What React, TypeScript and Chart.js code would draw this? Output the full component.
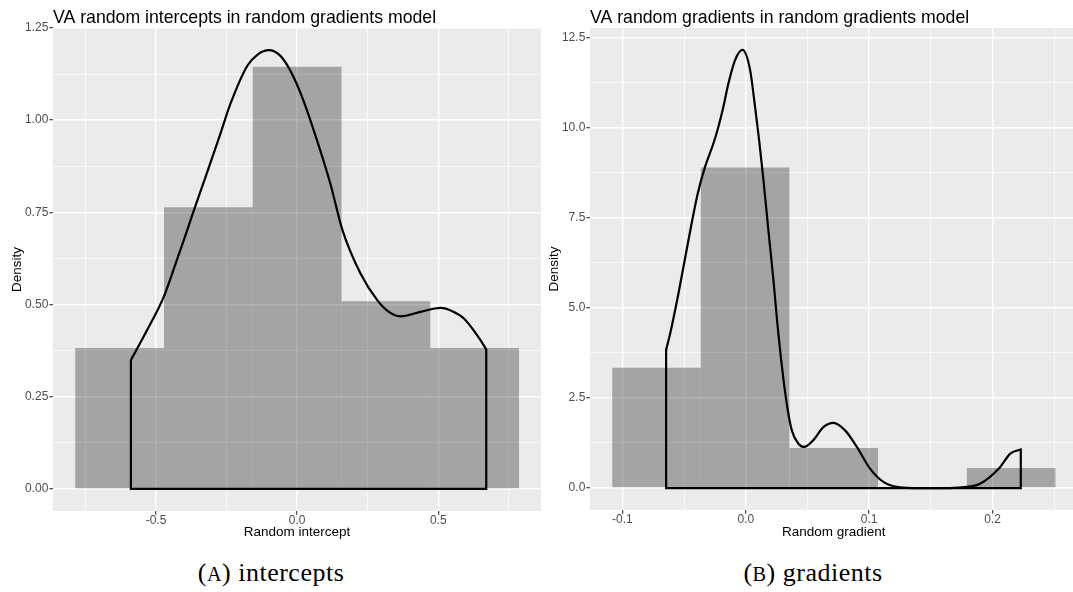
import React, { useEffect, useRef } from "react";
import { Chart, registerables } from "chart.js";

Chart.register(...registerables);
Chart.defaults.font.family = "'Liberation Sans', Arial, Helvetica, sans-serif";

// ---------- Panel A: random intercepts ----------
const interceptTitle = "VA random intercepts in random gradients model";
const interceptXTitle = "Random intercept";
const interceptBinCenters = [-0.629, -0.3145, 0.0, 0.3145, 0.629];
const interceptBinDensity = [0.382, 0.764, 1.145, 0.509, 0.382];
const interceptCurveX = [-0.589, -0.532, -0.473, -0.43, -0.4, -0.372, -0.325, -0.272, -0.2365, -0.177, -0.14, -0.1, -0.06, -0.024, 0.018, 0.071, 0.118, 0.16, 0.2245, 0.2837, 0.325, 0.366, 0.437, 0.508, 0.55, 0.591, 0.65, 0.67];
const interceptCurveY = [0.349, 0.43, 0.52, 0.612, 0.678, 0.742, 0.845, 0.963, 1.044, 1.147, 1.178, 1.19, 1.175, 1.134, 1.062, 0.944, 0.827, 0.703, 0.584, 0.512, 0.48, 0.468, 0.48, 0.491, 0.482, 0.462, 0.403, 0.378];
const interceptXRange = [-0.865, 0.864];
const interceptYRange = [-0.06, 1.25];
const interceptXMajor = [-0.5, 0, 0.5];
const interceptXLabels = ["-0.5", "0.0", "0.5"];
const interceptXMinor = [-0.75, -0.25, 0.25, 0.75];
const interceptYMajor = [0, 0.25, 0.5, 0.75, 1.0, 1.25];
const interceptYLabels = ["0.00", "0.25", "0.50", "0.75", "1.00", "1.25"];
const interceptYMinor = [0.125, 0.375, 0.625, 0.875, 1.125];

// ---------- Panel B: random gradients ----------
const gradientTitle = "VA random gradients in random gradients model";
const gradientXTitle = "Random gradient";
const gradientBinCenters = [-0.0724, -0.0006, 0.0713, 0.1431, 0.2151];
const gradientBinDensity = [3.34, 8.9, 1.11, 0, 0.555];
const gradientCurveX = [-0.0646, -0.0613, -0.0546, -0.0465, -0.0389, -0.033, -0.0262, -0.0222, -0.0182, -0.0141, -0.0087, -0.0027, 0.0035, 0.0075, 0.0108, 0.0143, 0.0183, 0.0224, 0.0255, 0.0292, 0.0332, 0.0373, 0.0427, 0.0472, 0.0548, 0.0629, 0.071, 0.0805, 0.09, 0.1007, 0.1115, 0.1224, 0.135, 0.165, 0.179, 0.1899, 0.2061, 0.2142, 0.2229];
const gradientCurveY = [3.84, 4.29, 5.4, 6.88, 8.18, 8.92, 9.57, 10.03, 10.58, 11.23, 11.88, 12.16, 11.6, 10.58, 9.66, 8.55, 7.16, 5.77, 4.6, 3.4, 2.34, 1.6, 1.23, 1.14, 1.33, 1.69, 1.81, 1.6, 1.14, 0.54, 0.17, 0.03, 0.0, 0.0, 0.03, 0.12, 0.58, 0.95, 1.07];
const gradientXRange = [-0.1263, 0.2688];
const gradientYRange = [-0.61, 12.77];
const gradientXMajor = [-0.1, 0, 0.1, 0.2];
const gradientXLabels = ["-0.1", "0.0", "0.1", "0.2"];
const gradientXMinor = [-0.05, 0.05, 0.15, 0.25];
const gradientYMajor = [0, 2.5, 5, 7.5, 10, 12.5];
const gradientYLabels = ["0.0", "2.5", "5.0", "7.5", "10.0", "12.5"];
const gradientYMinor = [1.25, 3.75, 6.25, 8.75, 11.25];

const yTitle = "Density";

const near = (a: number, b: number) => Math.abs(a - b) < 1e-9;

function axisScale(
  axis: "x" | "y",
  range: number[],
  major: number[],
  labels: string[],
  minor: number[],
  titleText: string,
  fitSize: number
): any {
  const isMajor = (v: number) => major.some((m) => near(m, v));
  return {
    type: "linear",
    position: axis === "x" ? "bottom" : "left",
    offset: false,
    min: range[0],
    max: range[1],
    afterBuildTicks: (scale: any) => {
      scale.ticks = [...major, ...minor].sort((a, b) => a - b).map((v) => ({ value: v }));
    },
    afterFit: (scale: any) => {
      if (axis === "x") scale.height = fitSize;
      else scale.width = fitSize;
    },
    ticks: {
      autoSkip: false,
      maxRotation: 0,
      minRotation: 0,
      padding: axis === "x" ? 0 : 1,
      color: "#4D4D4D",
      font: { size: 12, lineHeight: 1 },
      callback: (value: number) => {
        const i = major.findIndex((m) => near(m, value));
        return i >= 0 ? labels[i] : "";
      },
    },
    grid: {
      offset: false,
      color: "#FFFFFF",
      lineWidth: (ctx: any) => (ctx.tick && isMajor(ctx.tick.value) ? 1.4 : 0.7),
      drawTicks: true,
      tickLength: 3.7,
      tickWidth: 1.1,
      tickColor: (ctx: any) => (ctx.tick && isMajor(ctx.tick.value) ? "#333333" : "rgba(0,0,0,0)"),
    },
    border: { display: false },
    title: {
      display: true,
      text: titleText,
      color: "#000000",
      font: { size: 13.5 },
      padding: axis === "x" ? { top: 0, bottom: 4.6 } : { top: 9.4, bottom: 0 },
    },
  };
}

interface PanelProps {
  left: number;
  width: number;
  height: number;
  padRight: number;
  xAxisHeight: number;
  title: string;
  xTitle: string;
  binCenters: number[];
  binDensity: number[];
  curveX: number[];
  curveY: number[];
  xRange: number[];
  yRange: number[];
  xMajor: number[];
  xLabels: string[];
  xMinor: number[];
  yMajor: number[];
  yLabels: string[];
  yMinor: number[];
}

function Panel(p: PanelProps) {
  const ref = useRef<HTMLCanvasElement | null>(null);
  useEffect(() => {
    if (!ref.current) return;
    const last = p.curveX.length - 1;
    const background = {
      id: "panelBackground",
      beforeDraw(chart: any) {
        const { ctx, chartArea } = chart;
        ctx.save();
        ctx.fillStyle = "#EBEBEB";
        ctx.fillRect(chartArea.left, chartArea.top, chartArea.right - chartArea.left, chartArea.bottom - chartArea.top);
        ctx.restore();
      },
    };
    const titlePlugin = {
      id: "panelTitle",
      afterDraw(chart: any) {
        const { ctx, chartArea } = chart;
        ctx.save();
        ctx.fillStyle = "#000000";
        ctx.font = "17.7px 'Liberation Sans', Arial, sans-serif";
        ctx.textAlign = "left";
        ctx.textBaseline = "alphabetic";
        ctx.fillText(p.title, chartArea.left, 22.7);
        ctx.restore();
      },
    };
    const chart = new Chart(ref.current, {
      type: "bar",
      data: {
        datasets: [
          {
            type: "line",
            data: p.curveX.map((x, i) => ({ x, y: p.curveY[i] })),
            xAxisID: "x",
            yAxisID: "y",
            borderColor: "#000000",
            borderWidth: 2.2,
            pointRadius: 0,
            fill: false,
            cubicInterpolationMode: "monotone",
            borderCapStyle: "round",
            borderJoinStyle: "round",
            order: 0,
          } as any,
          {
            type: "line",
            data: [
              { x: p.curveX[0], y: p.curveY[0] },
              { x: p.curveX[0], y: 0 },
              { x: p.curveX[last], y: 0 },
              { x: p.curveX[last], y: p.curveY[last] },
            ],
            xAxisID: "x",
            yAxisID: "y",
            borderColor: "#000000",
            borderWidth: 2.2,
            pointRadius: 0,
            fill: false,
            tension: 0,
            borderCapStyle: "round",
            borderJoinStyle: "miter",
            order: 1,
          } as any,
          {
            type: "bar",
            data: p.binCenters.map((x, i) => ({ x, y: p.binDensity[i] })),
            xAxisID: "xh",
            yAxisID: "y",
            backgroundColor: "rgba(0,0,0,0.3)",
            borderWidth: 0,
            grouped: false,
            barPercentage: 1,
            categoryPercentage: 1,
            inflateAmount: 0,
            order: 3,
          } as any,
        ],
      },
      options: {
        animation: false,
        responsive: false,
        devicePixelRatio: 1,
        events: [],
        layout: { padding: { top: 28, left: 0, right: p.padRight, bottom: 0 } },
        plugins: {
          legend: { display: false },
          tooltip: { enabled: false },
          title: { display: false },
        },
        scales: {
          x: axisScale("x", p.xRange, p.xMajor, p.xLabels, p.xMinor, p.xTitle, p.xAxisHeight),
          xh: {
            type: "linear",
            display: false,
            offset: false,
            grid: { offset: false },
            min: p.xRange[0],
            max: p.xRange[1],
            afterBuildTicks: (scale: any) => {
              scale.ticks = p.binCenters.map((v) => ({ value: v }));
            },
          },
          y: axisScale("y", p.yRange, p.yMajor, p.yLabels, p.yMinor, yTitle, 53),
        } as any,
      },
      plugins: [background, titlePlugin],
    });
    return () => chart.destroy();
  }, []);
  return (
    <canvas
      ref={ref}
      width={p.width}
      height={p.height}
      style={{ position: "absolute", left: p.left, top: 0, width: p.width, height: p.height }}
    />
  );
}

const captionStyle = (center: number): React.CSSProperties => ({
  position: "absolute",
  left: center - 150,
  top: 560,
  width: 300,
  textAlign: "center",
  fontFamily: "'Liberation Serif', 'Times New Roman', serif",
  fontSize: 26,
  lineHeight: "26px",
  letterSpacing: 0.5,
  color: "#000000",
  whiteSpace: "nowrap",
});

export default function App() {
  return (
    <div
      style={{
        position: "absolute",
        left: 0,
        top: 0,
        width: 1073,
        height: 592,
        overflow: "hidden",
        background: "#FFFFFF",
      }}
    >
      <Panel
        left={0}
        width={541}
        height={545}
        padRight={0}
        xAxisHeight={34}
        title={interceptTitle}
        xTitle={interceptXTitle}
        binCenters={interceptBinCenters}
        binDensity={interceptBinDensity}
        curveX={interceptCurveX}
        curveY={interceptCurveY}
        xRange={interceptXRange}
        yRange={interceptYRange}
        xMajor={interceptXMajor}
        xLabels={interceptXLabels}
        xMinor={interceptXMinor}
        yMajor={interceptYMajor}
        yLabels={interceptYLabels}
        yMinor={interceptYMinor}
      />
      <Panel
        left={537}
        width={541}
        height={545}
        padRight={0.6}
        xAxisHeight={35}
        title={gradientTitle}
        xTitle={gradientXTitle}
        binCenters={gradientBinCenters}
        binDensity={gradientBinDensity}
        curveX={gradientCurveX}
        curveY={gradientCurveY}
        xRange={gradientXRange}
        yRange={gradientYRange}
        xMajor={gradientXMajor}
        xLabels={gradientXLabels}
        xMinor={gradientXMinor}
        yMajor={gradientYMajor}
        yLabels={gradientYLabels}
        yMinor={gradientYMinor}
      />
      <div style={captionStyle(271)}>
        (<span style={{ fontSize: "0.78em" }}>A</span>) intercepts
      </div>
      <div style={captionStyle(813)}>
        (<span style={{ fontSize: "0.78em" }}>B</span>) gradients
      </div>
    </div>
  );
}
